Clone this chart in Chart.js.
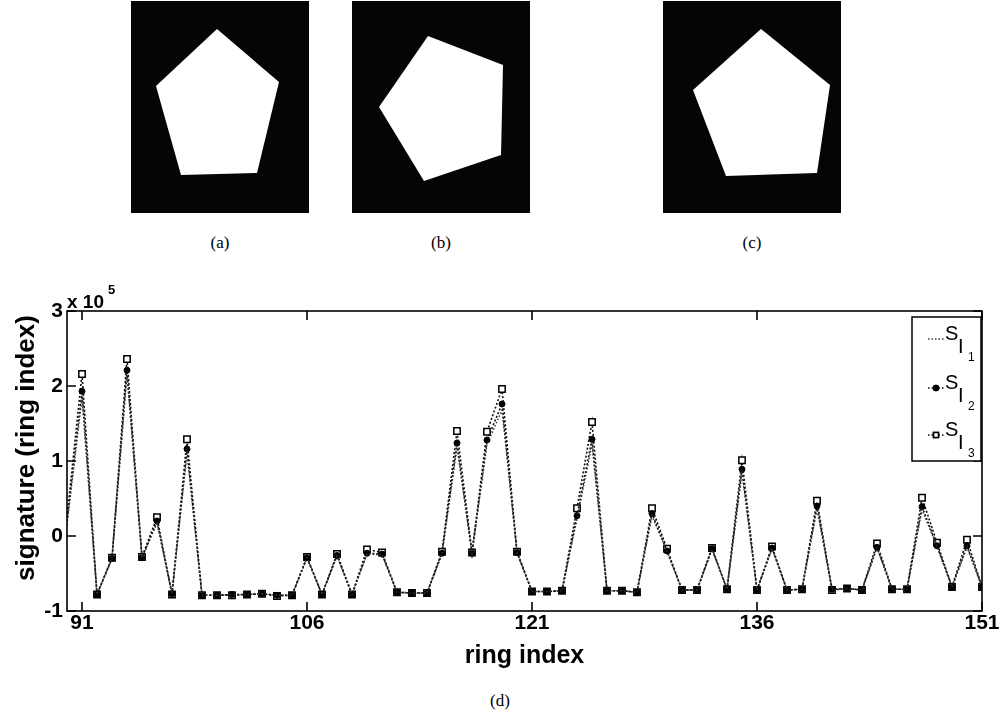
<!DOCTYPE html>
<html>
<head>
<meta charset="utf-8">
<script src="https://cdn.jsdelivr.net/npm/chart.js@4.4.0/dist/chart.umd.min.js"></script>
<style>
    html, body { margin: 0; padding: 0; background: #fff; }
    #page { position: relative; width: 1004px; height: 717px; overflow: hidden; }
    #shapes { position: absolute; left: 0; top: 0; }
    #chartBox { position: absolute; left: 0; top: 0; width: 1004px; height: 717px; }
    .cap { position: absolute; font-family: "Liberation Serif", serif; font-size: 17px; color: #000;
           transform: translate(-50%, -50%); white-space: nowrap; }
</style>
</head>
<body>
<div id="page">
    <svg id="shapes" width="1004" height="260">
        <rect x="131" y="1" width="178" height="212" fill="#050505"/>
        <polygon fill="#fff" points="217,29 279,82 257,173 181,175 156,86"/>
        <rect x="352" y="1" width="178" height="212" fill="#050505"/>
        <polygon fill="#fff" points="428,36 503,65 501,155 424,181 379,107"/>
        <rect x="663" y="1" width="178" height="212" fill="#050505"/>
        <polygon fill="#fff" points="761,29 830,85 817,173 726,176 693,90"/>
    </svg>
    <div class="cap" style="left:220px; top:243px;">(a)</div>
    <div class="cap" style="left:441px; top:243px;">(b)</div>
    <div class="cap" style="left:752px; top:243px;">(c)</div>
    <div class="cap" style="left:500px; top:701px;">(d)</div>
    <div id="chartBox"><canvas id="sigChart" width="1004" height="717"></canvas></div>
</div>
<script>
// Данные (значения в единицах 10^5)
const ringIndex = [90, 91, 92, 93, 94, 95, 96, 97, 98, 99, 100, 101, 102, 103, 104, 105, 106, 107, 108, 109, 110,
    111, 112, 113, 114, 115, 116, 117, 118, 119, 120, 121, 122, 123, 124, 125, 126, 127, 128, 129, 130,
    131, 132, 133, 134, 135, 136, 137, 138, 139, 140, 141, 142, 143, 144, 145, 146, 147, 148, 149, 150, 151];

const sigI1 = [0.15, 1.84, -0.78, -0.30, 2.14, -0.29, 0.17, -0.77, 1.10, -0.79, -0.79, -0.78, -0.78, -0.77, -0.79, -0.79,
    -0.29, -0.78, -0.27, -0.78, -0.24, -0.25, -0.75, -0.76, -0.76, -0.24, 1.18, -0.23, 1.22, 1.68, -0.22,
    -0.74, -0.74, -0.73, 0.23, 1.22, -0.73, -0.73, -0.75, 0.27, -0.21, -0.72, -0.72, -0.18, -0.71, 0.84,
    -0.72, -0.17, -0.72, -0.71, 0.36, -0.71, -0.70, -0.72, -0.16, -0.71, -0.71, 0.35, -0.14, -0.68, -0.15, -0.68];

const sigI2 = [0.20, 1.93, -0.78, -0.30, 2.21, -0.29, 0.20, -0.77, 1.16, -0.79, -0.79, -0.78, -0.78, -0.77, -0.79, -0.79,
    -0.29, -0.78, -0.26, -0.78, -0.23, -0.24, -0.75, -0.76, -0.76, -0.23, 1.24, -0.23, 1.28, 1.76, -0.22,
    -0.74, -0.74, -0.73, 0.27, 1.29, -0.73, -0.73, -0.75, 0.30, -0.20, -0.72, -0.72, -0.17, -0.71, 0.89,
    -0.72, -0.16, -0.72, -0.71, 0.40, -0.71, -0.70, -0.72, -0.15, -0.71, -0.71, 0.39, -0.13, -0.68, -0.13, -0.68];

const sigI3 = [0.25, 2.16, -0.78, -0.29, 2.36, -0.28, 0.25, -0.78, 1.29, -0.79, -0.79, -0.79, -0.78, -0.77, -0.80, -0.79,
    -0.28, -0.78, -0.24, -0.78, -0.18, -0.22, -0.75, -0.76, -0.76, -0.21, 1.40, -0.22, 1.39, 1.96, -0.21,
    -0.74, -0.74, -0.73, 0.37, 1.52, -0.73, -0.73, -0.75, 0.37, -0.17, -0.72, -0.72, -0.16, -0.71, 1.01,
    -0.72, -0.14, -0.72, -0.71, 0.47, -0.72, -0.70, -0.72, -0.10, -0.71, -0.71, 0.51, -0.09, -0.68, -0.05, -0.68];

const xTicks = [91, 106, 121, 136, 151];
const yTicks = [-1, 0, 1, 2, 3];
const legendSubs = ['1', '2', '3'];

const toPoints = vals => vals.map((v, i) => ({ x: ringIndex[i], y: v }));
// первая точка (90) лежит на краю оси, маркер там не рисуется
const edgeless = r => c => (c.dataIndex === 0 ? 0 : r);

// Рамка, внутренние засечки, множитель, подпись оси Y и легенда
const matlabFrame = {
    id: 'matlabFrame',
    afterDraw(chart) {
        const { ctx, chartArea: a, scales: { x, y } } = chart;
        ctx.save();
        ctx.strokeStyle = '#000';
        ctx.lineWidth = 1.6;
        ctx.strokeRect(a.left, a.top, a.right - a.left, a.bottom - a.top);
        const tl = 9;
        ctx.beginPath();
        xTicks.forEach(t => {
            const px = x.getPixelForValue(t);
            ctx.moveTo(px, a.bottom); ctx.lineTo(px, a.bottom - tl);
            ctx.moveTo(px, a.top); ctx.lineTo(px, a.top + tl);
        });
        yTicks.forEach(t => {
            const py = y.getPixelForValue(t);
            ctx.moveTo(a.left, py); ctx.lineTo(a.left + tl, py);
            ctx.moveTo(a.right, py); ctx.lineTo(a.right - tl, py);
        });
        ctx.stroke();

        // x 10^5
        ctx.fillStyle = '#000';
        ctx.textBaseline = 'alphabetic';
        ctx.textAlign = 'left';
        ctx.font = 'bold 19px "Liberation Sans", Arial, sans-serif';
        ctx.fillText('x 10', a.left, a.top - 3);
        ctx.font = 'bold 13px "Liberation Sans", Arial, sans-serif';
        ctx.fillText('5', a.left + 41, a.top - 17);

        // подпись оси Y
        ctx.save();
        ctx.translate(27, 448);
        ctx.rotate(-Math.PI / 2);
        ctx.textAlign = 'center';
        ctx.textBaseline = 'middle';
        ctx.font = 'bold 26px "Liberation Sans", Arial, sans-serif';
        ctx.fillText('signature (ring index)', 0, 0);
        ctx.restore();

        // легенда
        const lx = 912, ly = 317, lw = 69, lh = 144;
        ctx.fillStyle = '#fff';
        ctx.fillRect(lx, ly, lw, lh);
        ctx.lineWidth = 1.5;
        ctx.strokeRect(lx, ly, lw, lh);
        const rows = [339, 388, 435];
        chart.data.datasets.forEach((ds, i) => {
            const ry = rows[i];
            ctx.save();
            ctx.strokeStyle = ds.borderColor;
            ctx.lineWidth = 1.3;
            ctx.setLineDash([1.5, 2]);
            ctx.beginPath();
            ctx.moveTo(lx + 16, ry); ctx.lineTo(lx + 32, ry);
            ctx.stroke();
            ctx.restore();
            if (ds.legendRadius > 0) {
                Chart.helpers.drawPoint(ctx, {
                    pointStyle: ds.pointStyle, radius: ds.legendRadius, borderWidth: 1.3
                }, lx + 24, ry);
                ctx.fillStyle = ds.pointBackgroundColor;
                ctx.strokeStyle = '#000';
                ctx.fill();
                ctx.stroke();
            }
            ctx.fillStyle = '#000';
            ctx.textAlign = 'left';
            ctx.textBaseline = 'alphabetic';
            ctx.font = '20px "Liberation Sans", Arial, sans-serif';
            ctx.fillText('S', lx + 33, ry + 1);
            ctx.fillText('I', lx + 46, ry + 14);
            ctx.font = '12px "Liberation Sans", Arial, sans-serif';
            ctx.fillText(legendSubs[i], lx + 56, ry + 22);
        });
        ctx.restore();
    }
};

document.addEventListener('DOMContentLoaded', () => {
    const tickFont = { family: '"Liberation Sans", Arial, sans-serif', size: 21, weight: 'bold' };
    new Chart(document.getElementById('sigChart').getContext('2d'), {
        type: 'line',
        data: {
            datasets: [
                {
                    label: 'S_I1',
                    data: toPoints(sigI1),
                    borderColor: '#333',
                    borderWidth: 1.4,
                    borderDash: [1.5, 2],
                    pointRadius: 0,
                    legendRadius: 0,
                    tension: 0
                },
                {
                    label: 'S_I2',
                    data: toPoints(sigI2),
                    borderColor: '#111',
                    borderWidth: 1.6,
                    borderDash: [2, 2],
                    pointStyle: 'circle',
                    pointRadius: edgeless(3),
                    legendRadius: 2.5,
                    pointBackgroundColor: '#000',
                    pointBorderColor: '#000',
                    pointBorderWidth: 1,
                    tension: 0
                },
                {
                    label: 'S_I3',
                    data: toPoints(sigI3),
                    borderColor: '#111',
                    borderWidth: 1.6,
                    borderDash: [2, 2],
                    pointStyle: 'rect',
                    pointRadius: edgeless(4.5),
                    legendRadius: 3.5,
                    pointBackgroundColor: '#fff',
                    pointBorderColor: '#000',
                    pointBorderWidth: 1.5,
                    tension: 0
                }
            ]
        },
        options: {
            responsive: false,
            animation: false,
            devicePixelRatio: 1,
            layout: { padding: { top: 311, right: 22, left: 0, bottom: 46 } },
            plugins: {
                legend: { display: false },
                tooltip: { enabled: false }
            },
            scales: {
                x: {
                    type: 'linear',
                    min: 90,
                    max: 151,
                    afterBuildTicks: s => { s.ticks = xTicks.map(v => ({ value: v })); },
                    afterFit: s => { s.height = 60; },
                    grid: { display: false, drawTicks: false },
                    border: { display: false },
                    ticks: { font: tickFont, color: '#000', padding: 0, maxRotation: 0, autoSkip: false },
                    title: {
                        display: true,
                        text: 'ring index',
                        color: '#000',
                        font: { family: '"Liberation Sans", Arial, sans-serif', size: 25, weight: 'bold' },
                        padding: 0
                    }
                },
                y: {
                    min: -1,
                    max: 3,
                    afterBuildTicks: s => { s.ticks = yTicks.map(v => ({ value: v })); },
                    afterFit: s => { s.width = 67; },
                    grid: { display: false, drawTicks: false },
                    border: { display: false },
                    ticks: { font: tickFont, color: '#000', padding: 4 }
                }
            }
        },
        plugins: [matlabFrame]
    });
});
</script>
</body>
</html>
